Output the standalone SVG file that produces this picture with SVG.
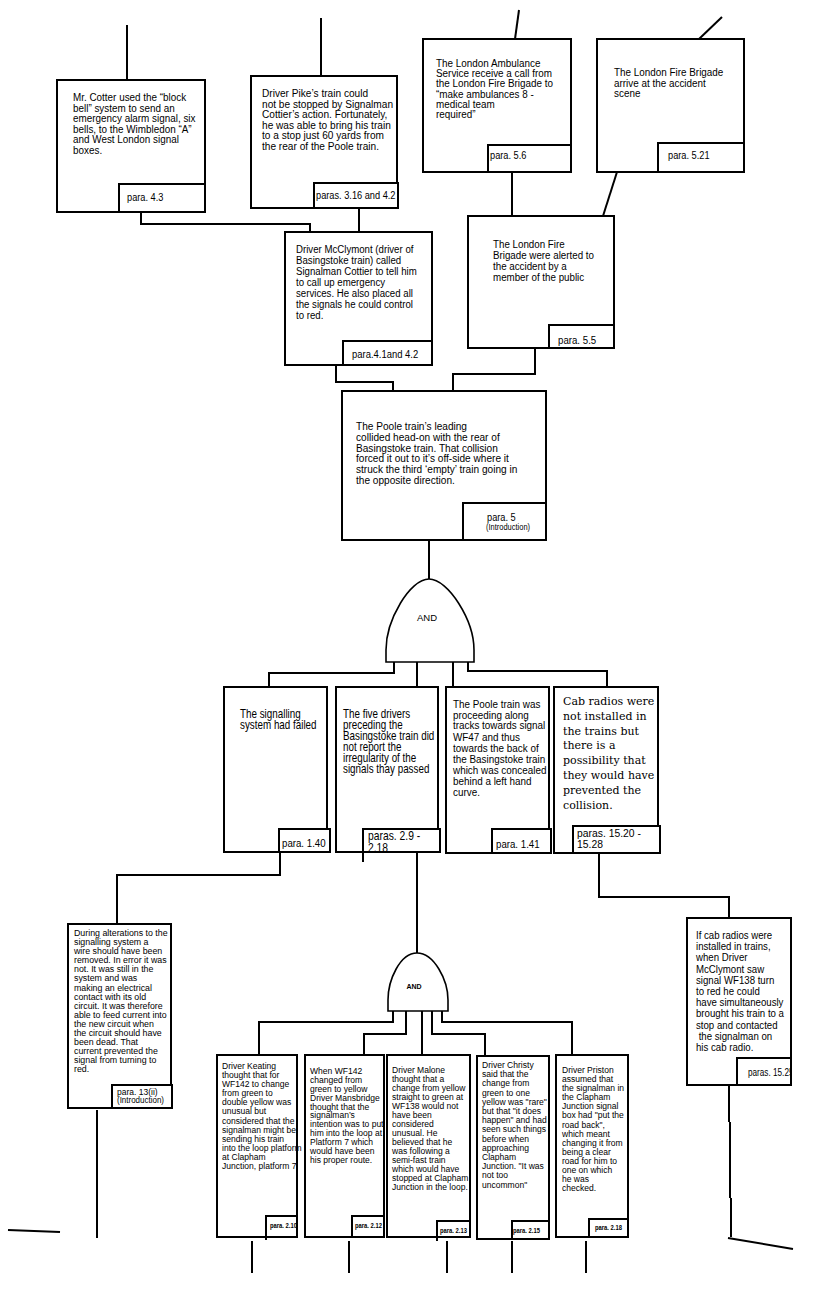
<svg xmlns="http://www.w3.org/2000/svg" width="818" height="1301" viewBox="0 0 818 1301">
<style>
.bx{fill:#fff;stroke:#000;stroke-width:2}
.pb{fill:#fff;stroke:#000;stroke-width:2}
.ln{fill:none;stroke:#000;stroke-width:2}
.gt{fill:#fff;stroke:#000;stroke-width:1.6}
text{font-family:"Liberation Sans",Arial,sans-serif;fill:#000}
.sf{font-family:"DejaVu Serif","Liberation Serif",serif}
</style>
<defs>
<clipPath id="cK"><rect x="266" y="1216" width="30" height="21"/></clipPath>
<clipPath id="cM"><rect x="352" y="1216" width="31" height="21"/></clipPath>
<clipPath id="cMa"><rect x="437" y="1221" width="32" height="16"/></clipPath>
<clipPath id="cC"><rect x="512" y="1221" width="36" height="18"/></clipPath>
<clipPath id="cR"><rect x="737" y="1058" width="53" height="27"/></clipPath>
</defs>
<rect width="818" height="1301" fill="#fff"/>

<g id="connectors">
<path class="ln" d="M127,25 V80"/>
<path class="ln" d="M321,18 V76"/>
<path class="ln" d="M519,10 L515,39"/>
<path class="ln" d="M699,39 L722,17"/>
<path class="ln" d="M141,212 V224 H310 V232"/>
<path class="ln" d="M359,208 V232"/>
<path class="ln" d="M512,172 V216"/>
<path class="ln" d="M617,172 L603,216"/>
<path class="ln" d="M336,365 V382 H393 V391"/>
<path class="ln" d="M535,348 V374 H453 V391"/>
<path class="ln" d="M429,540 V579"/>
<path class="ln" d="M394,662 V673 H269 V687"/>
<path class="ln" d="M417,662 V687"/>
<path class="ln" d="M453,662 V687"/>
<path class="ln" d="M468,662 V671 H607 V687"/>
<path class="ln" d="M280,852 V875 H117 V924"/>
<path class="ln" d="M417,852 V953"/>
<path class="ln" d="M599,853 V897 H729 V918"/>
<path class="ln" d="M97,1110 V1238"/>
<path class="ln" d="M8,1230 L60,1232"/>
<path class="ln" d="M729,1085 V1122 M730,1122 V1198 M731,1198 V1237 M728,1238 L793,1249"/>
<path class="ln" d="M393,1011 V1022 H259 V1055"/>
<path class="ln" d="M406,1011 V1034 H364 V1055"/>
<path class="ln" d="M422,1011 V1055"/>
<path class="ln" d="M432,1011 V1034 H485 V1056"/>
<path class="ln" d="M442,1011 V1022 H572 V1055"/>
<path class="ln" d="M252,1241 V1273 M349,1241 V1273 M447,1241 V1273 M512,1241 V1273 M586,1241 V1273"/>
</g>

<g id="n-cotter">
<rect class="bx" x="57" y="80" width="148" height="132"/>
<rect class="pb" x="119" y="184" width="86" height="28"/>
<text font-size="11.5" transform="translate(73,101) scale(0.86,1)"><tspan x="0" dy="0">Mr. Cotter used the “block</tspan><tspan x="0" dy="10.6">bell” system to send an</tspan><tspan x="0" dy="10.6">emergency alarm signal, six</tspan><tspan x="0" dy="10.6">bells, to the Wimbledon “A”</tspan><tspan x="0" dy="10.6">and West London signal</tspan><tspan x="0" dy="10.6">boxes.</tspan></text>
<text font-size="10.5" transform="translate(127,201) scale(0.88,1)">para.  4.3</text>
</g>

<g id="n-pike">
<rect class="bx" x="251" y="76" width="146" height="132"/>
<rect class="pb" x="314" y="183" width="84" height="25"/>
<text font-size="11.5" transform="translate(262,97) scale(0.88,1)"><tspan x="0" dy="0">Driver Pike’s train could</tspan><tspan x="0" dy="10.6">not be stopped by Signalman</tspan><tspan x="0" dy="10.6">Cottier’s action. Fortunately,</tspan><tspan x="0" dy="10.6">he was able to bring his train</tspan><tspan x="0" dy="10.6">to a stop just 60 yards from</tspan><tspan x="0" dy="10.6">the rear of the Poole train.</tspan></text>
<text font-size="10.5" transform="translate(316,199) scale(0.88,1)">paras. 3.16 and 4.2</text>
</g>

<g id="n-ambulance">
<rect class="bx" x="423" y="39" width="148" height="133"/>
<rect class="pb" x="488" y="145" width="83" height="27"/>
<text font-size="11.5" transform="translate(436,67) scale(0.86,1)"><tspan x="0" dy="0">The London Ambulance</tspan><tspan x="0" dy="10.2">Service receive a call from</tspan><tspan x="0" dy="10.2">the London Fire Brigade to</tspan><tspan x="0" dy="10.2">“make ambulances 8 -</tspan><tspan x="0" dy="10.2">medical team</tspan><tspan x="0" dy="10.2">required”</tspan></text>
<text font-size="10.5" transform="translate(490,159) scale(0.88,1)">para. 5.6</text>
</g>

<g id="n-fire-arrive">
<rect class="bx" x="597" y="39" width="147" height="133"/>
<rect class="pb" x="658" y="143" width="86" height="29"/>
<text font-size="11.5" transform="translate(614,76) scale(0.86,1)"><tspan x="0" dy="0">The London Fire Brigade</tspan><tspan x="0" dy="10.5">arrive at the accident</tspan><tspan x="0" dy="10.5">scene</tspan></text>
<text font-size="10.5" transform="translate(668,159) scale(0.88,1)">para. 5.21</text>
</g>

<g id="n-mcclymont">
<rect class="bx" x="285" y="232" width="147" height="133"/>
<rect class="pb" x="343" y="341" width="89" height="24"/>
<text font-size="11.5" transform="translate(296,253) scale(0.84,1)"><tspan x="0" dy="0">Driver McClymont (driver of</tspan><tspan x="0" dy="11">Basingstoke train) called</tspan><tspan x="0" dy="11">Signalman Cottier to tell him</tspan><tspan x="0" dy="11">to call up emergency</tspan><tspan x="0" dy="11">services. He also placed all</tspan><tspan x="0" dy="11">the signals he could control</tspan><tspan x="0" dy="11">to red.</tspan></text>
<text font-size="11" transform="translate(352,358) scale(0.86,1)">para.4.1and 4.2</text>
</g>

<g id="n-fire-alerted">
<rect class="bx" x="468" y="216" width="146" height="132"/>
<rect class="pb" x="549" y="325" width="65" height="23"/>
<text font-size="11.5" transform="translate(493,248) scale(0.85,1)"><tspan x="0" dy="0">The London Fire</tspan><tspan x="0" dy="11">Brigade were alerted to</tspan><tspan x="0" dy="11">the accident by a</tspan><tspan x="0" dy="11">member of the public</tspan></text>
<text font-size="11" transform="translate(558,344) scale(0.88,1)">para. 5.5</text>
</g>

<g id="n-poole">
<rect class="bx" x="342" y="391" width="204" height="149"/>
<rect class="pb" x="463" y="503" width="83" height="37"/>
<text font-size="11" transform="translate(356,430) scale(0.92,1)"><tspan x="0" dy="0">The Poole train’s leading</tspan><tspan x="0" dy="10.8">collided head-on with the rear of</tspan><tspan x="0" dy="10.8">Basingstoke train. That collision</tspan><tspan x="0" dy="10.8">forced it out to it’s off-side where it</tspan><tspan x="0" dy="10.8">struck the third ‘empty’ train going in</tspan><tspan x="0" dy="10.8">the opposite direction.</tspan></text>
<text font-size="10.5" transform="translate(487,521) scale(0.88,1)">para. 5</text>
<text font-size="8.5" transform="translate(486,530) scale(0.88,1)">(Introduction)</text>
</g>

<g id="gate-1">
<path class="gt" d="M386,662 L386,650 C386,620 410,579 429,579 C448,579 474,620 474,650 L474,662 Z"/>
<text font-size="9.5" text-anchor="middle" x="427" y="621">AND</text>
</g>

<g id="n-signalling">
<rect class="bx" x="224" y="687" width="103" height="165"/>
<rect class="pb" x="279" y="829" width="51" height="23"/>
<text font-size="12" transform="translate(240,718) scale(0.82,1)"><tspan x="0" dy="0">The signalling</tspan><tspan x="0" dy="11">system had failed</tspan></text>
<text font-size="11" transform="translate(282,847) scale(0.88,1)">para. 1.40</text>
</g>

<g id="n-five-drivers">
<rect class="bx" x="336" y="687" width="102" height="165"/>
<rect class="pb" x="363" y="829" width="77" height="23"/>
<path class="ln" d="M363,852 V862"/>
<text font-size="12" transform="translate(343,718) scale(0.82,1)"><tspan x="0" dy="0">The five drivers</tspan><tspan x="0" dy="11">preceding the</tspan><tspan x="0" dy="11">Basingstoke train did</tspan><tspan x="0" dy="11">not report the</tspan><tspan x="0" dy="11">irregularity of the</tspan><tspan x="0" dy="11">signals thay passed</tspan></text>
<text font-size="12" transform="translate(368,840) scale(0.86,1)"><tspan x="0" dy="0">paras. 2.9 -</tspan><tspan x="0" dy="12">2.18</tspan></text>
</g>

<g id="n-poole-proceeding">
<rect class="bx" x="446" y="687" width="103" height="166"/>
<rect class="pb" x="492" y="829" width="59" height="24"/>
<text font-size="11.5" transform="translate(453,708) scale(0.86,1)"><tspan x="0" dy="0">The Poole train was</tspan><tspan x="0" dy="10.5">proceeding along</tspan><tspan x="0" dy="11">tracks towards signal</tspan><tspan x="0" dy="12">WF47 and thus</tspan><tspan x="0" dy="11">towards the back of</tspan><tspan x="0" dy="11">the Basingstoke train</tspan><tspan x="0" dy="10.8">which was concealed</tspan><tspan x="0" dy="10.8">behind a left hand</tspan><tspan x="0" dy="10.8">curve.</tspan></text>
<text font-size="11" transform="translate(496,848) scale(0.88,1)">para. 1.41</text>
</g>

<g id="n-cab-radios">
<rect class="bx" x="554" y="687" width="104" height="166"/>
<rect class="pb" x="573" y="826" width="87" height="27"/>
<text class="sf" font-size="11" transform="translate(563,705)"><tspan x="0" dy="0">Cab radios were</tspan><tspan x="0" dy="14.8">not installed in</tspan><tspan x="0" dy="14.8">the trains but</tspan><tspan x="0" dy="14.8">there is a</tspan><tspan x="0" dy="14.8">possibility that</tspan><tspan x="0" dy="14.8">they would have</tspan><tspan x="0" dy="14.8">prevented the</tspan><tspan x="0" dy="14.8">collision.</tspan></text>
<text font-size="11.5" transform="translate(577,837) scale(0.9,1)"><tspan x="0" dy="0">paras. 15.20 -</tspan><tspan x="0" dy="11">15.28</tspan></text>
</g>

<g id="n-alterations">
<rect class="bx" x="68" y="924" width="103" height="184"/>
<rect class="pb" x="112" y="1085" width="60" height="23"/>
<text font-size="9.5" transform="translate(74,936) scale(0.93,1)"><tspan x="0" dy="0">During alterations to the</tspan><tspan x="0" dy="9.1">signalling system a</tspan><tspan x="0" dy="9.1">wire should have been</tspan><tspan x="0" dy="9.1">removed. In error it was</tspan><tspan x="0" dy="9.1">not. It was still in the</tspan><tspan x="0" dy="9.1">system and was</tspan><tspan x="0" dy="9.1">making an electrical</tspan><tspan x="0" dy="9.1">contact with its old</tspan><tspan x="0" dy="9.1">circuit. It was therefore</tspan><tspan x="0" dy="9.1">able to feed current into</tspan><tspan x="0" dy="9.1">the new circuit when</tspan><tspan x="0" dy="9.1">the circuit should have</tspan><tspan x="0" dy="9.1">been dead. That</tspan><tspan x="0" dy="9.1">current prevented the</tspan><tspan x="0" dy="9.1">signal from turning to</tspan><tspan x="0" dy="9.1">red.</tspan></text>
<text font-size="8.5" transform="translate(117,1095) scale(1,1)">para. 13(ii)</text>
<text font-size="8.5" transform="translate(117,1103) scale(0.94,1)">(Introduction)</text>
</g>

<g id="n-if-cab">
<rect class="bx" x="687" y="918" width="104" height="167"/>
<rect class="pb" x="737" y="1058" width="54" height="27"/>
<text font-size="11.5" transform="translate(696,939) scale(0.84,1)"><tspan x="0" dy="0">If cab radios were</tspan><tspan x="0" dy="11.2">installed in trains,</tspan><tspan x="0" dy="11.2">when Driver</tspan><tspan x="0" dy="11.2">McClymont saw</tspan><tspan x="0" dy="11.2">signal WF138 turn</tspan><tspan x="0" dy="11.2">to red he could</tspan><tspan x="0" dy="11.2">have simultaneously</tspan><tspan x="0" dy="11.2">brought his train to a</tspan><tspan x="0" dy="11.2">stop and contacted</tspan><tspan x="0" dy="11.2"> the signalman on</tspan><tspan x="0" dy="11.2">his cab radio.</tspan></text>
<g clip-path="url(#cR)"><text font-size="10.5" transform="translate(748,1076) scale(0.78,1)">paras. 15.25</text></g>
</g>

<g id="gate-2">
<path class="gt" d="M388,1011 L388,1000 C388,980 400,953 417,953 C434,953 448,980 448,1000 L448,1011 Z"/>
<text font-size="7" font-weight="bold" text-anchor="middle" x="414" y="989">AND</text>
</g>

<g id="n-keating">
<rect class="bx" x="217" y="1055" width="80" height="182"/>
<rect class="pb" x="266" y="1216" width="31" height="21"/>
<path class="ln" d="M266,1237 V1240"/>
<text font-size="9.5" transform="translate(222,1069) scale(0.9,1)"><tspan x="0" dy="0">Driver Keating</tspan><tspan x="0" dy="9.1">thought that for</tspan><tspan x="0" dy="9.1">WF142 to change</tspan><tspan x="0" dy="9.1">from green to</tspan><tspan x="0" dy="9.1">double yellow was</tspan><tspan x="0" dy="9.1">unusual but</tspan><tspan x="0" dy="9.1">considered that the</tspan><tspan x="0" dy="9.1">signalman might be</tspan><tspan x="0" dy="9.1">sending his train</tspan><tspan x="0" dy="9.1">into the loop platform</tspan><tspan x="0" dy="9.1">at Clapham</tspan><tspan x="0" dy="9.1">Junction, platform 7</tspan></text>
<g clip-path="url(#cK)"><text font-size="7.5" font-weight="bold" transform="translate(270,1228) scale(0.78,1)">para. 2.10</text></g>
</g>

<g id="n-mansbridge">
<rect class="bx" x="305" y="1055" width="79" height="182"/>
<rect class="pb" x="352" y="1216" width="32" height="21"/>
<text font-size="9.5" transform="translate(310,1074) scale(0.9,1)"><tspan x="0" dy="0">When WF142</tspan><tspan x="0" dy="8.9">changed from</tspan><tspan x="0" dy="8.9">green to yellow</tspan><tspan x="0" dy="8.9">Driver Mansbridge</tspan><tspan x="0" dy="8.9">thought that the</tspan><tspan x="0" dy="8.9">signalman’s</tspan><tspan x="0" dy="8.9">intention was to put</tspan><tspan x="0" dy="8.9">him into the loop at</tspan><tspan x="0" dy="8.9">Platform 7 which</tspan><tspan x="0" dy="8.9">would have been</tspan><tspan x="0" dy="8.9">his proper route.</tspan></text>
<g clip-path="url(#cM)"><text font-size="7.5" font-weight="bold" transform="translate(355,1228) scale(0.78,1)">para. 2.12</text></g>
</g>

<g id="n-malone">
<rect class="bx" x="387" y="1055" width="83" height="182"/>
<rect class="pb" x="437" y="1221" width="33" height="16"/>
<path class="ln" d="M437,1237 V1241"/>
<text font-size="9.5" transform="translate(392,1073) scale(0.9,1)"><tspan x="0" dy="0">Driver Malone</tspan><tspan x="0" dy="9">thought that a</tspan><tspan x="0" dy="9">change from yellow</tspan><tspan x="0" dy="9">straight to green at</tspan><tspan x="0" dy="9">WF138 would not</tspan><tspan x="0" dy="9">have been</tspan><tspan x="0" dy="9">considered</tspan><tspan x="0" dy="9">unusual. He</tspan><tspan x="0" dy="9">believed that he</tspan><tspan x="0" dy="9">was following a</tspan><tspan x="0" dy="9">semi-fast train</tspan><tspan x="0" dy="9">which would have</tspan><tspan x="0" dy="9">stopped at Clapham</tspan><tspan x="0" dy="9">Junction in the loop.</tspan></text>
<g clip-path="url(#cMa)"><text font-size="7.5" font-weight="bold" transform="translate(440,1233) scale(0.78,1)">para. 2.13</text></g>
</g>

<g id="n-christy">
<rect class="bx" x="477" y="1056" width="72" height="183"/>
<rect class="pb" x="512" y="1221" width="37" height="18"/>
<text font-size="9.5" transform="translate(482,1068) scale(0.9,1)"><tspan x="0" dy="0">Driver Christy</tspan><tspan x="0" dy="9.2">said that the</tspan><tspan x="0" dy="9.2">change from</tspan><tspan x="0" dy="9.2">green to one</tspan><tspan x="0" dy="9.2">yellow was "rare"</tspan><tspan x="0" dy="9.2">but that "it does</tspan><tspan x="0" dy="9.2">happen" and had</tspan><tspan x="0" dy="9.2">seen such things</tspan><tspan x="0" dy="9.2">before when</tspan><tspan x="0" dy="9.2">approaching</tspan><tspan x="0" dy="9.2">Clapham</tspan><tspan x="0" dy="9.2">Junction. "It was</tspan><tspan x="0" dy="9.2">not too</tspan><tspan x="0" dy="9.2">uncommon"</tspan></text>
<g clip-path="url(#cC)"><text font-size="7.5" font-weight="bold" transform="translate(513,1233) scale(0.78,1)">para. 2.15</text></g>
</g>

<g id="n-priston">
<rect class="bx" x="556" y="1055" width="72" height="182"/>
<rect class="pb" x="589" y="1219" width="39" height="18"/>
<text font-size="9.5" transform="translate(562,1073) scale(0.9,1)"><tspan x="0" dy="0">Driver Priston</tspan><tspan x="0" dy="9.1">assumed that</tspan><tspan x="0" dy="9.1">the signalman in</tspan><tspan x="0" dy="9.1">the Clapham</tspan><tspan x="0" dy="9.1">Junction signal</tspan><tspan x="0" dy="9.1">box had "put the</tspan><tspan x="0" dy="9.1">road back",</tspan><tspan x="0" dy="9.1">which meant</tspan><tspan x="0" dy="9.1">changing it from</tspan><tspan x="0" dy="9.1">being a clear</tspan><tspan x="0" dy="9.1">road for him to</tspan><tspan x="0" dy="9.1">one on which</tspan><tspan x="0" dy="9.1">he was</tspan><tspan x="0" dy="9.1">checked.</tspan></text>
<text font-size="7.5" font-weight="bold" transform="translate(595,1230) scale(0.78,1)">para. 2.18</text>
</g>
</svg>
